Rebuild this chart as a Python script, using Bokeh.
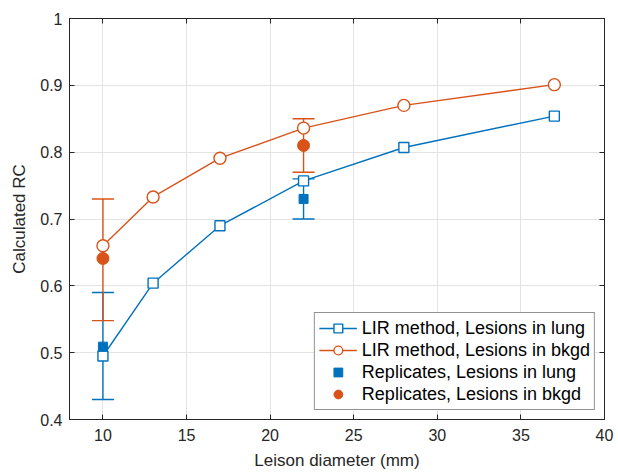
from bokeh.plotting import figure
from bokeh.models import (ColumnDataSource, Range1d, FixedTicker, LinearAxis, Whisker,
                          TeeHead, Legend, LegendItem, CustomJSTickFormatter)
from bokeh.embed import file_html
from bokeh.resources import INLINE

# ---- data ----
diam = [10, 13, 17, 22, 28, 37]
lir_lung = [0.495, 0.604, 0.690, 0.757, 0.807, 0.854]
lir_bkgd = [0.660, 0.733, 0.791, 0.836, 0.870, 0.901]

rep_x = [10, 22]
rep_lung = [0.509, 0.730]
rep_lung_lo = [0.430, 0.700]
rep_lung_hi = [0.590, 0.760]
rep_bkgd = [0.641, 0.810]
rep_bkgd_lo = [0.548, 0.770]
rep_bkgd_hi = [0.730, 0.850]

x_ticks = [10, 15, 20, 25, 30, 35, 40]
y_ticks = [0.4, 0.5, 0.6, 0.7, 0.8, 0.9, 1.0]

BLUE = "#0072BD"
ORANGE = "#D95319"
FONT = "Liberation Sans"
AXC = "#262626"

p = figure(width=618, height=472, output_backend="svg", toolbar_location=None,
           x_range=Range1d(8, 40), y_range=Range1d(0.4, 1.0),
           min_border_left=69, min_border_right=14, min_border_top=18, min_border_bottom=52)
p.background_fill_color = "white"
p.border_fill_color = "white"
p.outline_line_color = AXC
p.outline_line_width = 1

fmt = CustomJSTickFormatter(code="return (Math.round(tick*10)/10).toString();")

xb = p.xaxis[0]
yl = p.yaxis[0]
xb.ticker = FixedTicker(ticks=x_ticks)
xb.axis_label = "Leison diameter (mm)"
yl.ticker = FixedTicker(ticks=y_ticks)
yl.formatter = fmt
yl.axis_label = "Calculated RC"

top = LinearAxis(ticker=FixedTicker(ticks=x_ticks))
right = LinearAxis(ticker=FixedTicker(ticks=y_ticks))
p.add_layout(top, "above")
p.add_layout(right, "right")

for ax in [xb, yl, top, right]:
    ax.axis_line_color = AXC
    ax.major_tick_line_color = AXC
    ax.major_tick_in = 5
    ax.major_tick_out = 0
    ax.minor_tick_line_color = None
    ax.major_label_text_font = FONT
    ax.major_label_text_color = AXC
    ax.axis_label_text_font = FONT
    ax.axis_label_text_font_size = "17px"
    ax.axis_label_text_font_style = "normal"
    ax.axis_label_text_color = AXC

for ax in [xb, yl]:
    ax.major_label_text_font_size = "16px"
for ax in [top, right]:
    ax.major_label_text_font_size = "1px"
    ax.major_label_text_color = None
    ax.major_label_standoff = 0

xb.major_label_standoff = 9
yl.major_label_standoff = 7
xb.axis_label_standoff = 7
yl.axis_label_standoff = 8

p.xgrid.ticker = FixedTicker(ticks=x_ticks)
p.ygrid.ticker = FixedTicker(ticks=y_ticks)
p.grid.grid_line_color = "#e3e3e3"
p.grid.grid_line_width = 1

# LIR lines
l1 = p.line(diam, lir_lung, color=BLUE, line_width=1.4)
m1 = p.scatter(diam, lir_lung, marker="square", size=10, fill_color="white",
               line_color=BLUE, line_width=1.4)
l2 = p.line(diam, lir_bkgd, color=ORANGE, line_width=1.4)
m2 = p.scatter(diam, lir_bkgd, marker="circle", size=12, fill_color="white",
               line_color=ORANGE, line_width=1.4)

# Replicates with error bars
src_l = ColumnDataSource(dict(x=rep_x, y=rep_lung, lo=rep_lung_lo, hi=rep_lung_hi))
src_b = ColumnDataSource(dict(x=rep_x, y=rep_bkgd, lo=rep_bkgd_lo, hi=rep_bkgd_hi))

wl = Whisker(source=src_l, base="x", upper="hi", lower="lo", line_color=BLUE, line_width=1.4,
             upper_head=TeeHead(size=22, line_color=BLUE, line_width=1.4),
             lower_head=TeeHead(size=22, line_color=BLUE, line_width=1.4))
wb = Whisker(source=src_b, base="x", upper="hi", lower="lo", line_color=ORANGE, line_width=1.4,
             upper_head=TeeHead(size=22, line_color=ORANGE, line_width=1.4),
             lower_head=TeeHead(size=22, line_color=ORANGE, line_width=1.4))
p.add_layout(wl)
p.add_layout(wb)

r1 = p.scatter("x", "y", source=src_l, marker="square", size=9, color=BLUE)
r2 = p.scatter("x", "y", source=src_b, marker="circle", size=12, color=ORANGE)

legend = Legend(items=[
    LegendItem(label="LIR method, Lesions in lung", renderers=[l1, m1]),
    LegendItem(label="LIR method, Lesions in bkgd", renderers=[l2, m2]),
    LegendItem(label="Replicates, Lesions in lung", renderers=[r1]),
    LegendItem(label="Replicates, Lesions in bkgd", renderers=[r2]),
], location="bottom_right")
legend.label_text_font = FONT
legend.label_text_font_size = "18px"
legend.label_text_color = "black"
legend.border_line_color = AXC
legend.border_line_width = 1
legend.background_fill_alpha = 1
legend.margin = 9
legend.padding = 4
legend.spacing = 0
legend.glyph_width = 38
legend.glyph_height = 22
legend.label_standoff = 5
legend.label_height = 22
p.add_layout(legend)

open("out.html", "w").write(file_html(p, INLINE))
